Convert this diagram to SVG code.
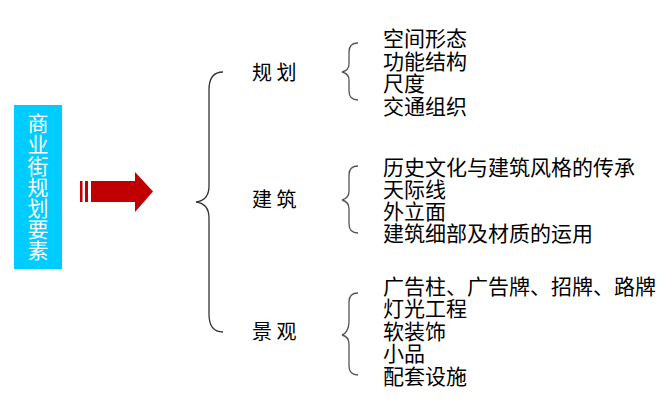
<svg xmlns="http://www.w3.org/2000/svg" width="668" height="418" viewBox="0 0 668 418">
<style>
text{font-family:"Noto Sans CJK SC","Noto Sans",sans-serif;fill:#000}
.t{font-size:21px}
.l{font-size:20px}
.v{font-size:21px;fill:#fff;text-anchor:middle;writing-mode:vertical-rl;letter-spacing:0.2px}
.b{fill:none;stroke:#333;stroke-width:1.3}
.s{fill:none;stroke:#555;stroke-width:1.3}
</style>
<rect width="668" height="418" fill="#fff"/>
<g id="title">
<rect x="14" y="105" width="48" height="164" fill="#00CCFF"/>
<text class="v" x="38" y="187">商业街规划要素</text>
</g>
<g id="connectors">
<g id="arrow" fill="#C00000">
<rect x="80" y="181" width="2.5" height="21"/>
<rect x="85" y="181" width="3" height="21"/>
<polygon points="91,181 135,181 135,172 153,191.5 135,212 135,202 91,202"/>
</g>
<path class="b" d="M223,72 C213,72 209,78 209,90 L209,186 C209,196 204,201 196,202 C204,203 209,208 209,218 L209,314 C209,326 213,332 223,332"/>
<path class="s" d="M358,43 C352,43 349,46 349,52 L349,64 C349,69 346,71 342,72 C346,73 349,75 349,80 L349,91 C349,97 352,100 358,100"/>
<path class="s" d="M358,166 C352,166 349,169 349,175 L349,191 C349,196 346,199 342,200 C346,201 349,204 349,209 L349,224 C349,230 352,233 358,233"/>
<path class="s" d="M358,293 C352,293 349,296 349,302 L349,322 C349,328 346,334 342,335 C346,336 349,339 349,344 L349,366 C349,372 352,375 358,375"/>
</g>
<g id="n-guihua"><text class="l" x="252" y="80">规 划</text></g>
<g id="n-jianzhu"><text class="l" x="252" y="207">建 筑</text></g>
<g id="n-jingguan"><text class="l" x="252" y="339">景 观</text></g>
<g id="items-guihua">
<text class="t"><tspan x="383" y="46">空间形态</tspan><tspan x="383" y="68.5">功能结构</tspan><tspan x="383" y="91">尺度</tspan><tspan x="383" y="113.5">交通组织</tspan></text>
</g>
<g id="items-jianzhu">
<text class="t"><tspan x="383" y="174.5">历史文化与建筑风格的传承</tspan><tspan x="383" y="196.5">天际线</tspan><tspan x="383" y="218.5">外立面</tspan><tspan x="383" y="240.5">建筑细部及材质的运用</tspan></text>
</g>
<g id="items-jingguan">
<text class="t"><tspan x="383" y="293.5">广告柱、广告牌、招牌、路牌</tspan><tspan x="383" y="316">灯光工程</tspan><tspan x="383" y="338.5">软装饰</tspan><tspan x="383" y="361">小品</tspan><tspan x="383" y="384">配套设施</tspan></text>
</g>
</svg>
